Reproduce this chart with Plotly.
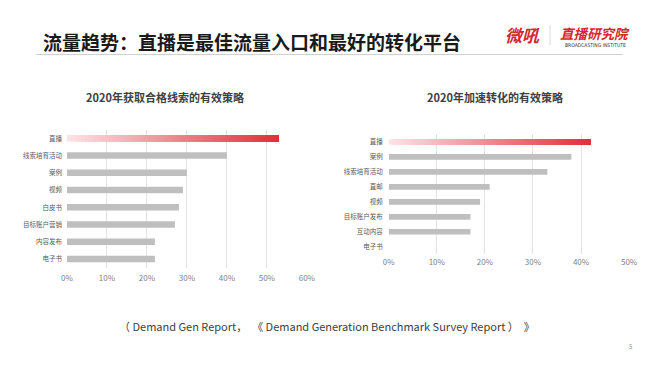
import plotly.graph_objects as go

# ---------------- data ----------------
left_title = "2020年获取合格线索的有效策略"
left_categories = ["直播", "线索培育活动", "案例", "视频", "白皮书", "目标账户营销", "内容发布", "电子书"]
left_values = [53, 40, 30, 29, 28, 27, 22, 22]
left_ticks = [0, 10, 20, 30, 40, 50, 60]

right_title = "2020年加速转化的有效策略"
right_categories = ["直播", "案例", "线索培育活动", "直邮", "视频", "目标账户发布", "互动内容", "电子书"]
right_values = [42, 38, 33, 21, 19, 17, 17, 0]
right_ticks = [0, 10, 20, 30, 40, 50]

page_title = "流量趋势：直播是最佳流量入口和最好的转化平台"
source_text = "（ Demand Gen Report，  《 Demand Generation Benchmark Survey Report ）  》"
page_number = "5"

# ---------------- styles ----------------
FONT = "Noto Sans CJK SC"
GRAY_BAR = "#bfbfbf"
GRID = "#e3e3e3"
RED = "#d7262e"
PINK_START = (252, 226, 230)
RED_END = (224, 48, 60)
N_SEG = 60


def lerp_color(t):
    r = round(PINK_START[0] + (RED_END[0] - PINK_START[0]) * t)
    g = round(PINK_START[1] + (RED_END[1] - PINK_START[1]) * t)
    b = round(PINK_START[2] + (RED_END[2] - PINK_START[2]) * t)
    return f"rgb({r},{g},{b})"


fig = go.Figure()


def add_chart(cats, vals, xa, ya, width):
    # gray bars for all but the highlighted first category
    fig.add_trace(go.Bar(
        y=cats[1:], x=vals[1:], orientation="h",
        marker=dict(color=GRAY_BAR, line=dict(width=0)),
        width=width, xaxis=xa, yaxis=ya, showlegend=False, hoverinfo="x+y",
    ))
    # gradient bar for the first category: overlapping pieces, each running
    # from a step of the value up to the value itself (later pieces on top)
    v = vals[0]
    seg = v / N_SEG
    starts = [i * seg for i in range(N_SEG)]
    fig.add_trace(go.Bar(
        y=[cats[0]] * N_SEG,
        x=[v - s for s in starts],
        base=starts,
        orientation="h",
        marker=dict(color=[lerp_color(i / (N_SEG - 1)) for i in range(N_SEG)], line=dict(width=0)),
        width=width, xaxis=xa, yaxis=ya, showlegend=False, hoverinfo="skip",
    ))


add_chart(left_categories, left_values, "x", "y", 0.38)
add_chart(right_categories, right_values, "x2", "y2", 0.38)

tick_font = dict(family=FONT, size=8, color="#7f7f7f")
cat_font = dict(family=FONT, size=6.5, color="#595959")

fig.update_layout(
    width=660, height=371,
    margin=dict(l=0, r=0, t=0, b=0, autoexpand=False),
    paper_bgcolor="white", plot_bgcolor="white",
    barmode="overlay",
    xaxis=dict(domain=[0.1015, 0.4652], range=[0, 60.05], tickvals=left_ticks,
               ticktext=[f"{t}%" for t in left_ticks], showgrid=True, gridcolor=GRID,
               gridwidth=1, zeroline=False, showline=False, ticks="", tickfont=tick_font,
               anchor="y", fixedrange=True, automargin=False, ticklabelstandoff=4),
    yaxis=dict(domain=[0.2787, 0.6504], categoryorder="array", categoryarray=left_categories,
               autorange="reversed", showgrid=False, zeroline=False, ticks="",
               tickfont=cat_font, anchor="x", ticklabelstandoff=4, automargin=False),
    xaxis2=dict(domain=[0.589, 0.9535], range=[0, 50.05], tickvals=right_ticks,
                ticktext=[f"{t}%" for t in right_ticks], showgrid=True, gridcolor=GRID,
                gridwidth=1, zeroline=False, showline=False, ticks="", tickfont=tick_font,
                anchor="y2", fixedrange=True, automargin=False, ticklabelstandoff=2),
    yaxis2=dict(domain=[0.3148, 0.6375], categoryorder="array", categoryarray=right_categories,
                autorange="reversed", showgrid=False, zeroline=False, ticks="",
                tickfont=cat_font, anchor="x2", ticklabelstandoff=5, automargin=False),
)

ann = []
# page title
ann.append(dict(text=f"<b>{page_title}</b>", x=41 / 660, y=1 - 42 / 371, xref="paper", yref="paper",
                xanchor="left", yanchor="middle", showarrow=False,
                font=dict(family=FONT, size=19, color="#1a1a1a")))
# logo
ann.append(dict(text="<b><i>微吼</i></b>", x=522 / 660, y=1 - 35 / 371, xref="paper", yref="paper",
                xanchor="center", yanchor="middle", showarrow=False,
                font=dict(family=FONT, size=17, color=RED)))
ann.append(dict(text="<b><i>直播研究院</i></b>", x=595 / 660, y=1 - 33 / 371, xref="paper", yref="paper",
                xanchor="center", yanchor="middle", showarrow=False,
                font=dict(family=FONT, size=13.5, color=RED)))
ann.append(dict(text="BROADCASTING INSTITUTE", x=595 / 660, y=1 - 45 / 371, xref="paper", yref="paper",
                xanchor="center", yanchor="middle", showarrow=False,
                font=dict(family="DejaVu Sans Condensed", size=5, color="#333333")))
# chart titles
ann.append(dict(text=f"<b>{left_title}</b>", x=165 / 660, y=1 - 97 / 371, xref="paper", yref="paper",
                xanchor="center", yanchor="middle", showarrow=False,
                font=dict(family=FONT, size=11, color="#404040")))
ann.append(dict(text=f"<b>{right_title}</b>", x=495 / 660, y=1 - 97 / 371, xref="paper", yref="paper",
                xanchor="center", yanchor="middle", showarrow=False,
                font=dict(family=FONT, size=11, color="#404040")))
# source + page number
ann.append(dict(text=source_text, x=327 / 660, y=1 - 326 / 371, xref="paper", yref="paper",
                xanchor="center", yanchor="middle", showarrow=False,
                font=dict(family=FONT, size=11, color="#404040")))
ann.append(dict(text=page_number, x=630 / 660, y=1 - 346 / 371, xref="paper", yref="paper",
                xanchor="center", yanchor="middle", showarrow=False,
                font=dict(family=FONT, size=6, color="#8c8c8c")))
fig.update_layout(annotations=ann)

fig.update_layout(shapes=[
    dict(type="line", xref="paper", yref="paper", x0=36 / 660, x1=623 / 660,
         y0=1 - 54.5 / 371, y1=1 - 54.5 / 371, line=dict(color="#d0d0d0", width=1)),
    dict(type="line", xref="paper", yref="paper", x0=550 / 660, x1=550 / 660,
         y0=1 - 25 / 371, y1=1 - 45 / 371, line=dict(color="#d9d9d9", width=1)),
])

fig.write_html(
    "out.html",
    config={"displayModeBar": False},
    post_script="document.body.style.margin='0';document.body.style.overflow='hidden';",
)
